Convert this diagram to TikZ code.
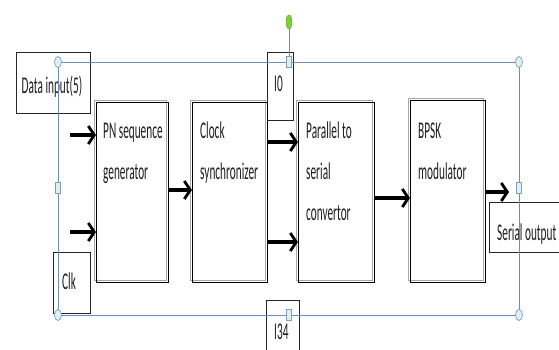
\documentclass[tikz,border=0pt]{standalone}
\usepackage{fontspec}
\setmainfont{Carlito}[FakeStretch=0.47]
\usetikzlibrary{arrows.meta,shapes.geometric}
\definecolor{selblue}{HTML}{6C8EB4}
\definecolor{handlefill}{HTML}{DDF0F6}
\definecolor{handleline}{HTML}{7E9EBB}
\definecolor{rotgreen}{HTML}{7CCF3A}
\definecolor{txtcol}{HTML}{1E1E1E}
\tikzset{
  blockbox/.style={draw=black, line width=1.3pt, minimum width=#1, anchor=north west, inner sep=0pt,
     preaction={draw=gray!70, line width=1pt, transform canvas={shift={(-2.5pt,2.5pt)}}}},
  lblbox/.style={draw=black!85, line width=1pt, anchor=north west, inner sep=0pt, fill=white},
  txt/.style={text=txtcol, font={\fontsize{24}{41}\selectfont}, align=left, inner sep=0pt},
  flow/.style={line width=3.2pt, -{Straight Barb[length=6pt,width=18pt,line width=2.8pt]}},
  selframe/.style={draw=selblue, line width=0.9pt},
  cornerhandle/.style={ellipse, draw=handleline, fill=handlefill, line width=0.7pt, minimum width=7pt, minimum height=11pt, inner sep=0pt},
  sidehandle/.style={rectangle, draw=handleline, fill=handlefill, line width=0.7pt, minimum width=4.5pt, minimum height=11pt, inner sep=0pt},
  rothandle/.style={ellipse, draw=rotgreen!80!black, fill=rotgreen, line width=0.5pt, minimum width=6pt, minimum height=14pt, inner sep=0pt}
}
\begin{document}
\begin{tikzpicture}[x=1pt,y=-1pt]
\useasboundingbox (0,0) rectangle (559,349);
% label boxes
\node[lblbox, minimum width=74pt, minimum height=61pt] (datain) at (16,52) {};
\node[txt, anchor=base] (dataint) at (52,93) {Data input(5)};
\node[lblbox, minimum width=37pt, minimum height=61pt] (clk) at (53,252) {};
\node[txt, anchor=base west] (clkt) at (62,289) {Clk};
\node[lblbox, minimum width=26pt, minimum height=68pt] (io) at (267,52) {};
\node[txt, anchor=base west] (iot) at (274,91) {I0};
\node[lblbox, minimum width=33pt, minimum height=60pt] (ithree) at (266,300) {};
\node[txt, anchor=base west] (ithreet) at (274,339) {I34};
\node[lblbox, minimum width=75pt, minimum height=50pt] (serout) at (489,202) {};
\node[txt, anchor=base west] (seroutt) at (497,240) {Serial output};
% blocks
\node[blockbox=72pt, minimum height=180pt] (pn) at (96,102) {};
\node[txt, anchor=base west] (pnt) at (103,179) {PN sequence\\generator};
\node[blockbox=75pt, minimum height=180pt] (clock) at (192,102) {};
\node[txt, anchor=base west] (clockt) at (200,179) {Clock\\synchronizer};
\node[blockbox=76pt, minimum height=180pt] (par) at (298,102) {};
\node[txt, anchor=base west] (part) at (306,220) {Parallel to\\serial\\convertor};
\node[blockbox=75pt, minimum height=182pt] (bpsk) at (410,100) {};
\node[txt, anchor=base west] (bpskt) at (418,179) {BPSK\\modulator};
% arrows
\coordinate (inA) at (70,135);
\coordinate (inB) at (70,232);
\coordinate (outE) at (509,192);
\draw[flow] (inA) -- (inA -| pn.west);
\draw[flow] (inB) -- (inB -| pn.west);
\draw[flow] (pn.east |- 0,190) -- (clock.west |- 0,190);
\draw[flow] (clock.east |- 0,142) -- (par.west |- 0,142);
\draw[flow] (clock.east |- 0,242) -- (par.west |- 0,242);
\draw[flow] (par.east |- 0,198) -- (bpsk.west |- 0,198);
\draw[flow] (bpsk.east |- outE) -- (outE);
% selection frame
\coordinate (fnw) at (58,62);
\coordinate (fse) at (519,315);
\draw[selframe] (fnw) rectangle (fse);
\node[rothandle] (rot) at (289,22) {};
\node[sidehandle] (hn) at (289,62) {};
\draw[selframe] (rot.south) -- (hn.north);
\node[sidehandle] (hs) at (289,315) {};
\node[sidehandle] (hw) at (58,188) {};
\node[sidehandle] (he) at (519,188) {};
\node[cornerhandle] (hnw) at (fnw) {};
\node[cornerhandle] (hne) at (519,62) {};
\node[cornerhandle] (hsw) at (58,315) {};
\node[cornerhandle] (hse) at (fse) {};
\end{tikzpicture}
\end{document}
